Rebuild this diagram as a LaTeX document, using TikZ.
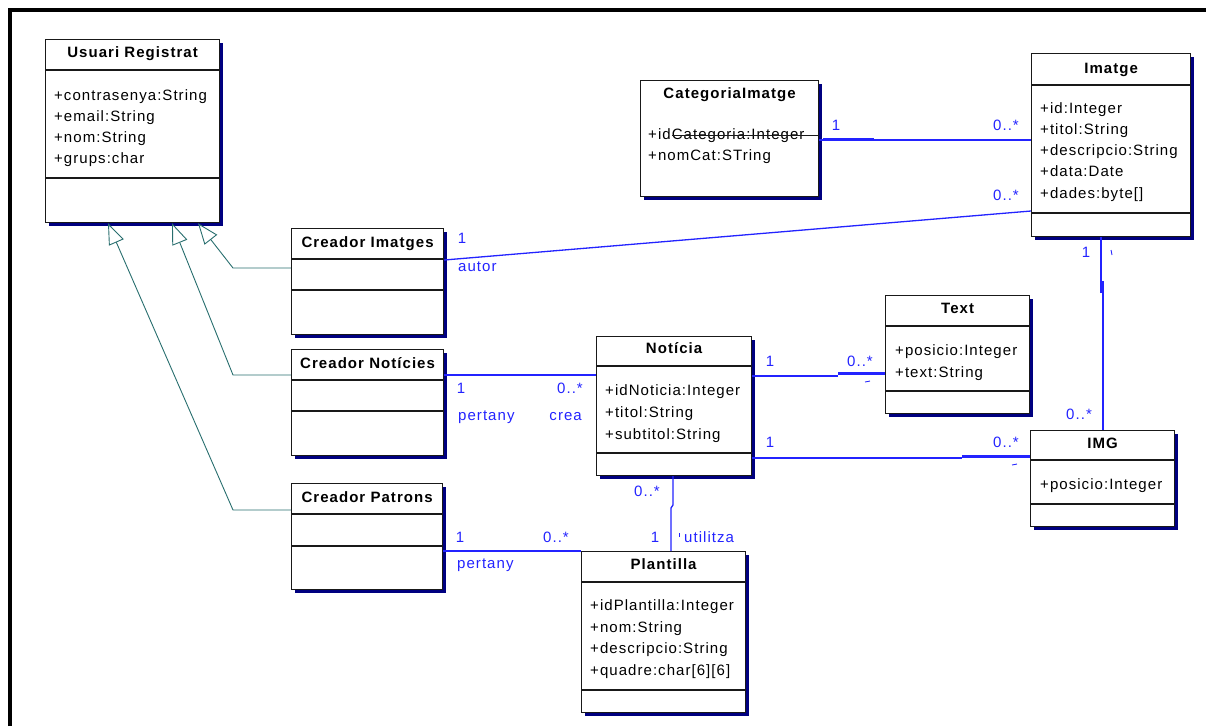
\documentclass[tikz,border=0pt]{standalone}
\usepackage{fontspec}
\setmainfont{Liberation Sans}[LetterSpace=7]
\usetikzlibrary{arrows.meta,shadows}

\definecolor{umlblue}{RGB}{35,35,255}
\definecolor{shadownavy}{RGB}{0,0,128}
\definecolor{genteal}{RGB}{40,110,110}
\definecolor{boxline}{RGB}{25,25,25}

\tikzset{
  classbox/.style={rectangle, draw=boxline, line width=1.2pt, fill=white,
    inner sep=0pt, anchor=north west,
    drop shadow={shadow xshift=3.5pt, shadow yshift=-3.5pt, fill=shadownavy, opacity=1}},
  compart/.style={draw=boxline, line width=1.2pt},
  title/.style={font=\fontsize{15}{18}\selectfont\bfseries, anchor=base, inner sep=0pt},
  attr/.style={anchor=base west, inner sep=0pt},
  mult/.style={text=umlblue, anchor=base, inner sep=0pt},
  rolew/.style={text=umlblue, anchor=base west, inner sep=0pt},
  rolee/.style={text=umlblue, anchor=base east, inner sep=0pt},
  assoc/.style={draw=umlblue, line width=1.3pt},
  assocthick/.style={draw=umlblue, line width=2.4pt},
  tick/.style={draw=umlblue, line width=0.9pt},
  gen/.style={draw=genteal, line width=0.9pt,
    -{Triangle[open, length=21pt, width=16pt, fill=white]}}
}

\begin{document}
\begin{tikzpicture}[x=1pt, y=-1pt, font=\fontsize{15}{18}\selectfont]
\useasboundingbox (0,0) rectangle (1206,726);

% outer frame (top and left edges)
\draw[line width=4pt, black] (9.5,726) -- (9.5,10) -- (1206,10);

% ---------------- class boxes ----------------
\node[classbox, minimum width=174pt, minimum height=183pt] (usr)  at (45,39)   {};
\node[classbox, minimum width=178pt, minimum height=116pt] (cat)  at (640,80)  {};
\node[classbox, minimum width=159pt, minimum height=183pt] (img)  at (1031,53) {};
\node[classbox, minimum width=152pt, minimum height=106pt] (cim)  at (291,228) {};
\node[classbox, minimum width=152pt, minimum height=106pt] (cnot) at (291,349) {};
\node[classbox, minimum width=151pt, minimum height=106pt] (cpat) at (291,483) {};
\node[classbox, minimum width=155pt, minimum height=139pt] (noti) at (596,336) {};
\node[classbox, minimum width=144pt, minimum height=118pt] (txt)  at (885,295) {};
\node[classbox, minimum width=144pt, minimum height=96pt]  (igm)  at (1030,430) {};
\node[classbox, minimum width=164pt, minimum height=161pt] (pla)  at (581,551) {};

% compartment separators
\foreach \b/\ya/\yb in {usr/70/178, img/85/213, cim/259/290, cnot/380/411,
                         cpat/514/546, noti/366/453, txt/326/391, igm/460/504, pla/582/690}{
  \draw[compart] (\b.west |- 0,\ya) -- (\b.east |- 0,\ya);
  \draw[compart] (\b.west |- 0,\yb) -- (\b.east |- 0,\yb);
}

% ---------------- titles ----------------
\node[title] (usr-t)  at (usr.north |- 0,57)   {Usuari Registrat};
\node[title] (cat-t)  at (cat.north |- 0,98)   {CategoriaImatge};
\node[title] (img-t)  at (img.north |- 0,73)   {Imatge};
\node[title] (cim-t)  at (cim.north |- 0,247)  {Creador Imatges};
\node[title] (cnot-t) at (cnot.north |- 0,368) {Creador Notícies};
\node[title] (cpat-t) at (cpat.north |- 0,502) {Creador Patrons};
\node[title] (noti-t) at (noti.north |- 0,353) {Notícia};
\node[title] (txt-t)  at (txt.north |- 0,313)  {Text};
\node[title] (igm-t)  at (igm.north |- 0,448)  {IMG};
\node[title] (pla-t)  at (pla.north |- 0,569)  {Plantilla};

% ---------------- attributes ----------------
\node[attr] (usr-a1) at (54,100) {+contrasenya:String};
\node[attr] (usr-a2) at (54,121) {+email:String};
\node[attr] (usr-a3) at (54,142) {+nom:String};
\node[attr] (usr-a4) at (54,163) {+grups:char};

\node[attr] (cat-a1) at (648,139) {+idCategoria:Integer};
\node[attr] (cat-a2) at (648,160) {+nomCat:STring};

\node[attr] (img-a1) at (1040,113) {+id:Integer};
\node[attr] (img-a2) at (1040,134) {+titol:String};
\node[attr] (img-a3) at (1040,155) {+descripcio:String};
\node[attr] (img-a4) at (1040,176) {+data:Date};
\node[attr] (img-a5) at (1040,198) {+dades:byte[]};

\node[attr] (noti-a1) at (605,395) {+idNoticia:Integer};
\node[attr] (noti-a2) at (605,417) {+titol:String};
\node[attr] (noti-a3) at (605,439) {+subtitol:String};

\node[attr] (txt-a1) at (895,355) {+posicio:Integer};
\node[attr] (txt-a2) at (895,377) {+text:String};

\node[attr] (igm-a1) at (1040,489) {+posicio:Integer};

\node[attr] (pla-a1) at (590,610) {+idPlantilla:Integer};
\node[attr] (pla-a2) at (590,632) {+nom:String};
\node[attr] (pla-a3) at (590,653) {+descripcio:String};
\node[attr] (pla-a4) at (590,675) {+quadre:char[6][6]};

% ---------------- generalisations ----------------
\draw[gen] (cim.west |- 0,268)  -- (233,268) -- (usr.south -| 198,0);
\draw[gen] (cnot.west |- 0,375) -- (233,375) -- (usr.south -| 172,0);
\draw[gen] (cpat.west |- 0,510) -- (233,510) -- (usr.south -| 108,0);

% ---------------- associations ----------------
% CategoriaImatge -- Imatge
\draw[boxline, line width=1pt] (672,135) -- (cat.east |- 0,135);
\draw[assoc] (cat.east |- 0,140) -- (img.west |- 0,140);
\draw[assocthick] (823,139.5) -- (874,139.5);
\node[mult] (m-cat1) at (836,130) {1};
\node[mult] (m-cat2) at (1006,130) {0..*};

% Creador Imatges -- Imatge
\draw[assoc] (cim.east |- 0,260) -- (img.west |- 0,211);
\node[mult]  (m-cim1) at (462,243) {1};
\node[rolew] (r-cim)  at (458,271) {autor};
\node[mult]  (m-cim2) at (1006,200) {0..*};

% Creador Noticies -- Noticia
\draw[assoc] (cnot.east |- 0,375) -- (noti.west |- 0,375);
\node[mult]  (m-cn1) at (461,393) {1};
\node[rolew] (r-cn1) at (458,420) {pertany};
\node[mult]  (m-cn2) at (570,393) {0..*};
\node[rolee] (r-cn2) at (582,420) {crea};

% Creador Patrons -- Plantilla
\draw[assoc] (cpat.east |- 0,551) -- (pla.west |- 0,551);
\node[mult]  (m-cp1) at (460,542) {1};
\node[rolew] (r-cp)  at (457,568) {pertany};
\node[mult]  (m-cp2) at (556,542) {0..*};

% Noticia -- Plantilla
\draw[assoc] (noti.south -| 673,0) -- (673,505) -- (671,508) -- (pla.north -| 671,0);
\node[mult]  (m-np1) at (647,496) {0..*};
\node[mult]  (m-np2) at (655,542) {1};
\node[rolew] (r-np)  at (684,542) {utilitza};
\draw[tick] (679,533) -- (679,537);

% Noticia -- Text
\draw[assoc] (noti.east |- 0,376) -- (838,376);
\draw[assocthick] (838,373.5) -- (txt.west |- 0,373.5);
\node[mult] (m-nt1) at (770,366) {1};
\node[mult] (m-nt2) at (860,366) {0..*};
\draw[tick] (865,382) -- (870,381);

% Noticia -- IMG
\draw[assoc] (noti.east |- 0,458) -- (962,458);
\draw[assocthick] (962,456.5) -- (igm.west |- 0,456.5);
\node[mult] (m-ni1) at (770,447) {1};
\node[mult] (m-ni2) at (1006,447) {0..*};
\draw[tick] (1012,465) -- (1017,464);

% Imatge -- IMG
\draw[assocthick] (img.south -| 1101,0) -- (1101,293);
\draw[assoc] (1103,281) -- (igm.north -| 1103,0);
\node[mult] (m-ii1) at (1086,257) {1};
\node[mult] (m-ii2) at (1079,419) {0..*};
\draw[tick] (1111,250) -- (1112,255);

\end{tikzpicture}
\end{document}
